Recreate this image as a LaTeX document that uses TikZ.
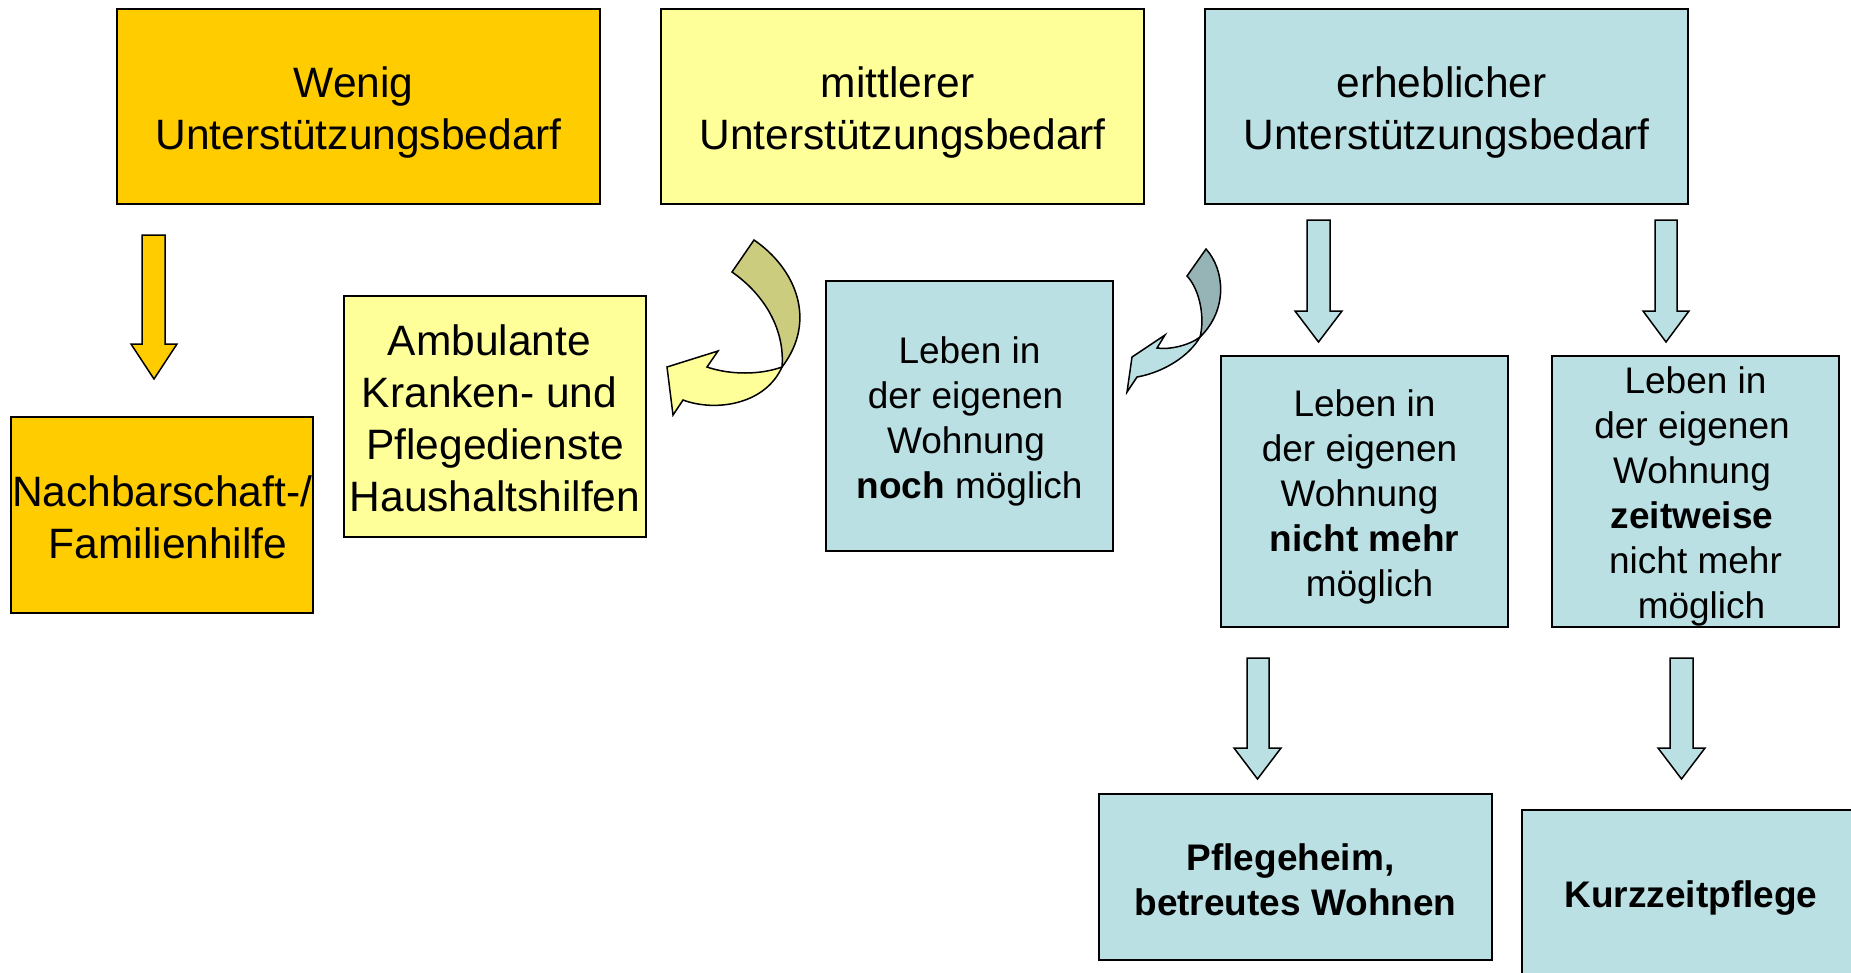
\documentclass[tikz,border=0pt]{standalone}
\usepackage{fontspec}
\setmainfont{Liberation Sans}
\definecolor{goldc}{HTML}{FFCC00}
\definecolor{lyel}{HTML}{FFFF99}
\definecolor{lblue}{HTML}{BBE0E3}
\definecolor{olivec}{HTML}{CCCC7E}
\definecolor{greyblue}{HTML}{96B4B6}
\tikzset{
  box/.style={draw=black, line width=1.5pt, inner sep=0pt},
  txt/.style={inner sep=0pt, align=center, font=\fontsize{42.5}{52}\selectfont},
  smalltext/.style={font=\fontsize{37}{45}\selectfont},
  shapeline/.style={draw=black, line width=1.5pt, line join=miter},
}
\newcommand\tsp[1]{\rule{#1}{0pt}}
% block arrow down: fill, shaft left, shaft right, top, head left, head right, head start, tip
\newcommand\blockdown[8]{%
  \path[shapeline, fill=#1] (#2,#4) -- (#3,#4) -- (#3,#7) -- (#6,#7) -- ({(#5+#6)/2},#8) -- (#5,#7) -- (#2,#7) -- cycle;}
\begin{document}
\begin{tikzpicture}[x=1pt, y=-1pt]
\useasboundingbox (0,0) rectangle (1851,972);
\clip (0,0) rectangle (1851,972);
% top row
\node[box, fill=goldc, minimum width=483pt, minimum height=195pt] (wenig) at (358.5,106.5) {};
\node[txt] (wenigT) at ([yshift=-6pt]wenig.center) {Wenig\tsp{10pt}\\Unterstützungsbedarf};
\node[box, fill=lyel, minimum width=483pt, minimum height=195pt] (mittel) at (902.5,106.5) {};
\node[txt] (mittelT) at ([yshift=-6pt]mittel.center) {mittlerer\tsp{10pt}\\Unterstützungsbedarf};
\node[box, fill=lblue, minimum width=483pt, minimum height=195pt] (erheb) at (1446.5,106.5) {};
\node[txt] (erhebT) at ([yshift=-6pt]erheb.center) {erheblicher\tsp{10pt}\\Unterstützungsbedarf};
% second row
\node[box, fill=goldc, minimum width=302pt, minimum height=196pt] (nachbar) at (162,515) {};
\node[txt] (nachbarT) at ([yshift=-2pt]nachbar.center) {Nachbarschaft-/\\\tsp{12pt}Familienhilfe};
\node[box, fill=lyel, minimum width=302pt, minimum height=241pt] (ambul) at (495,416.5) {};
\node[txt] (ambulT) at ([yshift=-2pt]ambul.center) {Ambulante\tsp{11pt}\\Kranken- und\tsp{11pt}\\Pflegedienste\\Haushaltshilfen};
\node[box, fill=lblue, minimum width=287pt, minimum height=270pt] (noch) at (969.5,416) {};
\node[txt, smalltext] (nochT) at ([yshift=-5pt]noch.center) {Leben in\\der eigenen\tsp{8pt}\\Wohnung\tsp{7pt}\\\textbf{noch} möglich};
\node[box, fill=lblue, minimum width=287pt, minimum height=271pt] (nichtmehr) at (1364.5,491.5) {};
\node[txt, smalltext] (nichtmehrT) at ([yshift=-5pt]nichtmehr.center) {Leben in\\der eigenen\tsp{10pt}\\Wohnung\tsp{10pt}\\\textbf{nicht mehr}\\\tsp{10pt}möglich};
\node[box, fill=lblue, minimum width=287pt, minimum height=271pt] (zeitweise) at (1695.5,491.5) {};
\node[txt, smalltext] (zeitweiseT) at ([yshift=-5pt]zeitweise.center) {Leben in\\der eigenen\tsp{7pt}\\Wohnung\tsp{7pt}\\\textbf{zeitweise}\tsp{7pt}\\nicht mehr\\\tsp{12pt}möglich};
% bottom row
\node[box, fill=lblue, minimum width=393pt, minimum height=166pt] (heim) at (1295.5,877) {};
\node[txt, smalltext] (heimT) at ([yshift=-3pt]heim.center) {\textbf{Pflegeheim,}\tsp{10pt}\\\textbf{betreutes Wohnen}};
\node[box, fill=lblue, minimum width=338pt, minimum height=176pt] (kurz) at (1691,898) {};
\node[txt, smalltext] (kurzT) at (kurz.center) {\textbf{Kurzzeitpflege}};
% straight block arrows
\blockdown{goldc}{142}{165}{235}{131}{177}{344}{379}
\blockdown{lblue}{1307}{1330}{220}{1295}{1342}{311}{342}
\blockdown{lblue}{1655}{1677}{220}{1643}{1689}{311}{342}
\blockdown{lblue}{1247}{1269}{658}{1234}{1281}{748}{779}
\blockdown{lblue}{1670}{1693}{658}{1658}{1705}{748}{779}
% curved arrow (yellow)
\path[shapeline, fill=olivec] (732,272) -- (754,240) .. controls (795,268) and (818,320) .. (782,367)
  .. controls (785,330) and (765,295) .. (732,272) -- cycle;
\path[shapeline, fill=lyel] (782,367) .. controls (760,375) and (730,375) .. (707,367) -- (718,351) -- (667,367)
  -- (673,415) -- (683,400) .. controls (715,412) and (765,405) .. (782,367) -- cycle;
% curved arrow (blue)
\path[shapeline, fill=greyblue] (1187,276) -- (1206,249) .. controls (1225,270) and (1228,310) .. (1200,337)
  .. controls (1205,318) and (1200,290) .. (1187,276) -- cycle;
\path[shapeline, fill=lblue] (1200,337) .. controls (1190,345) and (1170,350) .. (1157,348) -- (1165,335) -- (1132,357)
  -- (1127,392) -- (1137,377) .. controls (1165,372) and (1190,355) .. (1200,337) -- cycle;
\end{tikzpicture}
\end{document}
